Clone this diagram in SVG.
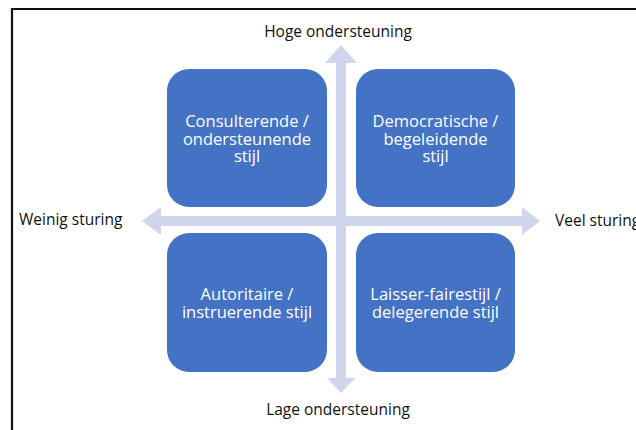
<svg xmlns="http://www.w3.org/2000/svg" width="636" height="430" viewBox="0 0 636 430">
<style>
.lbl{font-family:"Open Sans","Liberation Sans",sans-serif;font-size:15.5px;fill:#111;}
.box{fill:#4472C4;}
.bt{font-family:"Open Sans","Liberation Sans",sans-serif;font-size:16.5px;font-weight:500;fill:#fff;text-anchor:middle;}
.ax{fill:#CFD5EA;}
</style>
<rect width="636" height="430" fill="#fff"/>
<path d="M12 431 V9 H640" fill="none" stroke="#111" stroke-width="2.2"/>
<g id="connectors">
<polygon class="ax" points="341,45 357,63 346,63 346,378 355,378 341,393 327,378 336,378 336,63 325,63"/>
<polygon class="ax" points="142,221 161,207 161,216 522,216 522,207 540,221 522,235 522,226 161,226 161,235"/>
</g>
<g id="n1"><rect class="box" x="167" y="69" width="160" height="138" rx="22"/>
<text class="bt" x="247" y="127">Consulterende /</text><text class="bt" x="247" y="144.5">ondersteunende</text><text class="bt" x="247" y="162">stijl</text></g>
<g id="n2"><rect class="box" x="356" y="69" width="159" height="138" rx="22"/>
<text class="bt" x="435.5" y="127">Democratische /</text><text class="bt" x="435.5" y="144.5">begeleidende</text><text class="bt" x="435.5" y="162">stijl</text></g>
<g id="n3"><rect class="box" x="167" y="233" width="160" height="139" rx="22"/>
<text class="bt" x="247" y="300">Autoritaire /</text><text class="bt" x="247" y="317.5">instruerende stijl</text></g>
<g id="n4"><rect class="box" x="356" y="233" width="159" height="139" rx="22"/>
<text class="bt" x="435.5" y="300">Laisser-fairestijl /</text><text class="bt" x="435.5" y="317.5">delegerende stijl</text></g>
<g id="labels">
<text class="lbl" x="338" y="37" text-anchor="middle">Hoge ondersteuning</text>
<text class="lbl" x="338" y="415" text-anchor="middle">Lage ondersteuning</text>
<text class="lbl" x="19" y="225">Weinig sturing</text>
<text class="lbl" x="555" y="226">Veel sturing</text>
</g>
</svg>
